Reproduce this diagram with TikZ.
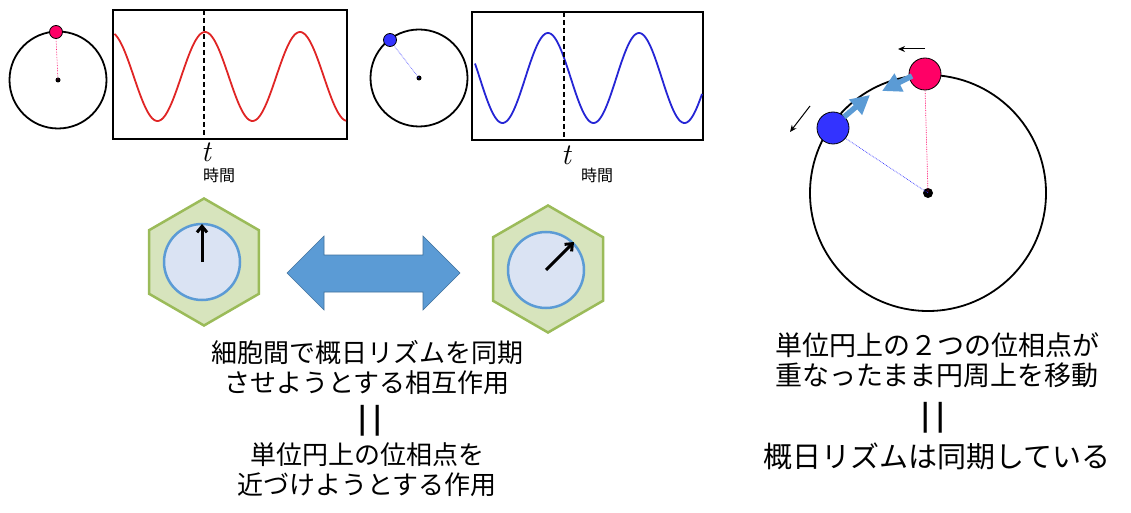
\documentclass[tikz,border=0pt]{standalone}
\usepackage{fontspec}
\newfontfamily\jp{Noto Sans CJK JP}
\usetikzlibrary{arrows.meta,shapes.geometric}
\definecolor{pinkdot}{HTML}{FF0066}
\definecolor{bluedot}{HTML}{3333FF}
\definecolor{wavered}{HTML}{E02525}
\definecolor{waveblue}{HTML}{2525D5}
\definecolor{arrblue}{HTML}{5B9BD5}
\definecolor{arrborder}{HTML}{41719C}
\definecolor{hexfill}{HTML}{D7E4BD}
\definecolor{hexline}{HTML}{9BBB59}
\definecolor{cellfill}{HTML}{DAE3F3}
\begin{document}
\begin{tikzpicture}[x=1pt,y=-1pt,
  unitcircle/.style={circle,draw=black,line width=1.8pt,inner sep=0pt},
  centerdot/.style={circle,fill=black,inner sep=0pt},
  phasedot/.style={circle,draw=black,line width=0.8pt,inner sep=0pt},
  wavebox/.style={draw=black,line width=2pt},
  tline/.style={black,line width=1.4pt,dashed,dash pattern=on 5pt off 3pt},
  hexcell/.style={regular polygon,regular polygon sides=6,shape border rotate=30,
     fill=hexfill,draw=hexline,line width=2.5pt,inner sep=0pt,minimum size=127pt},
  cellcircle/.style={circle,fill=cellfill,draw=arrblue,line width=2.5pt,inner sep=0pt,minimum size=76pt},
  jptext/.style={font=\jp\fontsize{26}{30}\selectfont,align=center,inner sep=0pt},
  eqbars/.style={font=\jp\bfseries\fontsize{27}{27}\selectfont,inner sep=0pt},
  smalljp/.style={font=\jp\fontsize{16}{18}\selectfont,inner sep=0pt},
  tlabel/.style={font=\fontsize{30}{30}\selectfont\itshape,inner sep=0pt},
  fatarrow/.style={arrblue,line width=5.5pt,-{Triangle[length=19pt,width=19pt]}},
  thinarrow/.style={black,line width=1pt,-{Stealth[length=7pt,width=6pt]}},
  cellarrow/.style={black,line width=3pt,-{Straight Barb[length=6pt,width=10pt]}}
]
\useasboundingbox[fill=white] (0,0) rectangle (1131,513);

% ---------- panel 1 (red) ----------
\node[unitcircle,minimum size=97pt] (c1) at (58,80) {};
\node[centerdot,minimum size=5pt] (o1) at (58,80) {};
\draw[pinkdot,line width=0.6pt,densely dotted] (56,38) -- (o1.center);
\node[phasedot,fill=pinkdot,minimum size=13pt] (p1) at (56,32) {};
\node[wavebox,minimum width=234pt,minimum height=129pt,inner sep=0pt] (b1) at (230,74.5) {};
\draw[wavered,line width=1.8pt] plot[domain=114.5:346,samples=160,smooth] (\x,{76.5-44.5*cos(3.7895*(\x-205))});
\coordinate (t1top) at (204,10);
\coordinate (t1bot) at (204,139);
\draw[tline] (t1top) -- (t1bot);
\node[tlabel] (t1) at (206,152) {t};
\node[smalljp] (j1) at (219,175) {時間};

% ---------- panel 2 (blue) ----------
\node[unitcircle,minimum size=97pt] (c2) at (419,78) {};
\node[centerdot,minimum size=5pt] (o2) at (419,78) {};
\draw[bluedot,line width=0.6pt,densely dotted] (392,43) -- (o2.center);
\node[phasedot,fill=bluedot,minimum size=13pt] (p2) at (390,40) {};
\node[wavebox,minimum width=231pt,minimum height=128pt,inner sep=0pt] (b2) at (587.5,76) {};
\draw[waveblue,line width=1.8pt] plot[domain=475:702,samples=160,smooth] (\x,{78-45*cos(3.956*(\x-548))});
\coordinate (t2top) at (564,12);
\coordinate (t2bot) at (564,140);
\draw[tline] (t2top) -- (t2bot);
\node[tlabel] (t2) at (566,155) {t};
\node[smalljp] (j2) at (597,175) {時間};

% ---------- cells ----------
\node[hexcell] (h1) at (204,262) {};
\node[cellcircle] (cc1) at (202,262) {};
\coordinate (a1e) at (202,224);
\draw[cellarrow] (cc1.center) -- (a1e);

\node[hexcell] (h2) at (548,269) {};
\node[cellcircle] (cc2) at (546,270) {};
\coordinate (a2e) at (574,242);
\draw[cellarrow] (cc2.center) -- (a2e);

% double arrow
\draw[fill=arrblue,draw=arrborder,line width=0.6pt]
  (287,273) -- (324,236) -- (324,255) -- (423,255) -- (423,236) -- (460,273)
  -- (423,310) -- (423,292) -- (324,292) -- (324,310) -- cycle;

% ---------- left texts ----------
\node[jptext] (l1) at (367,368) {細胞間で概日リズムを同期\\させようとする相互作用};
\node[eqbars] (l2) at (370,421) {|\hspace{6pt}|};
\node[jptext] (l3) at (367,470) {単位円上の位相点を\\近づけようとする作用};

% ---------- right panel ----------
\node[unitcircle,minimum size=236pt] (bc) at (928,193) {};
\node[centerdot,minimum size=10pt] (bo) at (928,193) {};
\draw[pinkdot,line width=0.7pt,densely dotted] (925,88) -- (bo.center);
\draw[bluedot,line width=0.7pt,densely dotted] (845,138) -- (bo.center);
\node[phasedot,fill=pinkdot,minimum size=32pt] (pp) at (925,74) {};
\node[phasedot,fill=bluedot,minimum size=32pt] (pb) at (833,128) {};
\coordinate (fa1s) at (912,76);
\coordinate (fa1e) at (882,91);
\draw[fatarrow] (fa1s) -- (fa1e);
\coordinate (fa2s) at (844,117);
\coordinate (fa2e) at (870,95);
\draw[fatarrow] (fa2s) -- (fa2e);
\coordinate (sa1s) at (925,49);
\coordinate (sa1e) at (898,49);
\draw[thinarrow] (sa1s) -- (sa1e);
\coordinate (sa2s) at (810,106);
\coordinate (sa2e) at (790,132);
\draw[thinarrow] (sa2s) -- (sa2e);

\node[jptext,font=\jp\fontsize{27}{30}\selectfont] (r1) at (937,360) {単位円上の２つの位相点が\\重なったまま円周上を移動};
\node[eqbars] (r2) at (933,418) {|\hspace{6pt}|};
\node[jptext,font=\jp\fontsize{29}{30}\selectfont] (r3) at (937,456) {概日リズムは同期している};
\end{tikzpicture}
\end{document}
